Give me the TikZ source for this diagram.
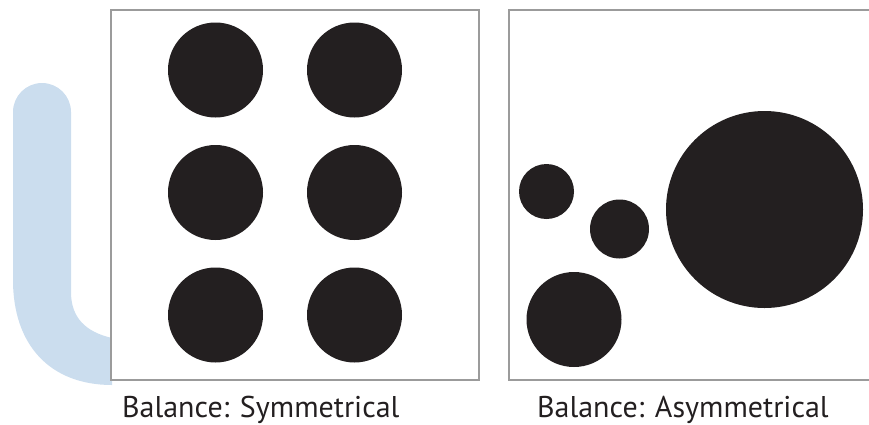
\documentclass[tikz,border=0pt]{standalone}
\usepackage{fontspec}
\setmainfont{PT Sans}
\definecolor{cink}{HTML}{231F20}
\definecolor{cframe}{HTML}{9B9B9B}
\definecolor{cpale}{HTML}{CBDDEE}
\tikzset{
  every picture/.style={x=1pt, y=-1pt},
  panel/.style={draw=cframe, fill=white, line width=1.2pt, inner sep=0pt, minimum width=#1, minimum height=370pt},
  dot/.style={circle, fill=cink, inner sep=0pt, minimum size=#1},
  caption/.style={font=\fontsize{30}{34}\selectfont, text=cink, inner sep=0pt, anchor=base west},
}
\begin{document}
\begin{tikzpicture}
  \useasboundingbox (0,0) rectangle (869,424);
  % pale hook behind the left panel
  \fill[cpale] (13,112) arc[start angle=180, end angle=360, radius=29] -- (71,292)
    .. controls (71,318) and (86,332) .. (112,338) -- (112,385)
    .. controls (50,385) and (13,345) .. (13,280) -- cycle;
  \node[panel=368pt] (sym) at (295,195) {};
  \node[panel=372pt] (asym) at (695,195) {};
  % symmetrical: 3 x 2 grid
  \foreach \col/\x in {1/215.5, 2/354.5}
    \foreach \row/\y in {1/70, 2/192.5, 3/315}
      \node[dot=95pt] (sym-\row-\col) at (\x,\y) {};
  % asymmetrical
  \node[dot=55pt] (asym-a) at (546.5,191.5) {};
  \node[dot=59pt] (asym-b) at (619.5,229) {};
  \node[dot=95pt] (asym-c) at (574,319.5) {};
  \node[dot=197pt] (asym-d) at (764.5,209.5) {};
  \node[caption] (symtext) at (122,417) {Balance: Symmetrical};
  \node[caption] (asymtext) at (537,417) {Balance: Asymmetrical};
\end{tikzpicture}
\end{document}
